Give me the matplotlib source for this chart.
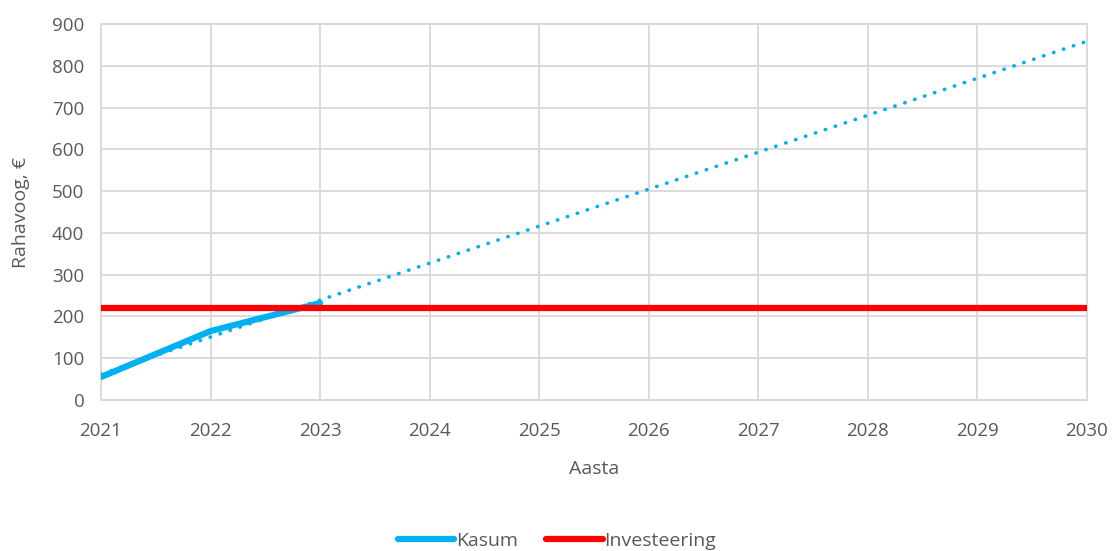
import numpy as np
import matplotlib.pyplot as plt

plt.rcParams['font.family'] = ['Open Sans', 'DejaVu Sans']

# data
years = [2021, 2022, 2023]
kasum = [55, 165, 232]
inv_years = [2021, 2030]
investeering = [220, 220]

# linear trend of Kasum, extended to 2030
coef = np.polyfit(years, kasum, 1)
trend_x = np.array([2021, 2030])
trend_y = np.polyval(coef, trend_x)

fig = plt.figure(figsize=(11.14, 5.51), dpi=100)
ax = fig.add_axes([101 / 1114, 1 - 400 / 551, 986 / 1114, 376 / 551])

grid_c = '#d9d9d9'
ax.plot(trend_x, trend_y, color='#00b0f0', lw=2.6, linestyle=(0, (0.1, 2.8)),
        dash_capstyle='round', zorder=3)
ax.plot(years, kasum, color='#00b0f0', lw=4.5, solid_capstyle='round',
        label='Kasum', zorder=3)
ax.plot(inv_years, investeering, color='#ff0000', lw=4.5, label='Investeering',
        zorder=4)

ax.set_xlim(2021, 2030)
ax.set_ylim(0, 900)
ax.set_xticks(range(2021, 2031))
ax.set_yticks(range(0, 901, 100))
ax.grid(True, color=grid_c, lw=1.3)
ax.set_axisbelow(True)
for s in ax.spines.values():
    s.set_color(grid_c)
    s.set_linewidth(1.3)
ax.tick_params(length=0, labelsize=13.5, colors='#595959')
ax.tick_params(axis='x', pad=16)
ax.tick_params(axis='y', pad=12)
ax.set_xlabel('Aasta', fontsize=14, color='#595959', labelpad=14)
ax.set_ylabel('Rahavoog, €', fontsize=14, color='#595959', labelpad=16)

leg = fig.legend(loc='lower center', bbox_to_anchor=(0.5, -0.03), ncol=2,
                 frameon=False, fontsize=14, handlelength=2.9, handletextpad=0.1,
                 columnspacing=1.45, labelcolor='#595959')
for h in leg.get_lines():
    h.set_linewidth(4.5)
    h.set_solid_capstyle('round')

fig.savefig('out.png', dpi=100)
